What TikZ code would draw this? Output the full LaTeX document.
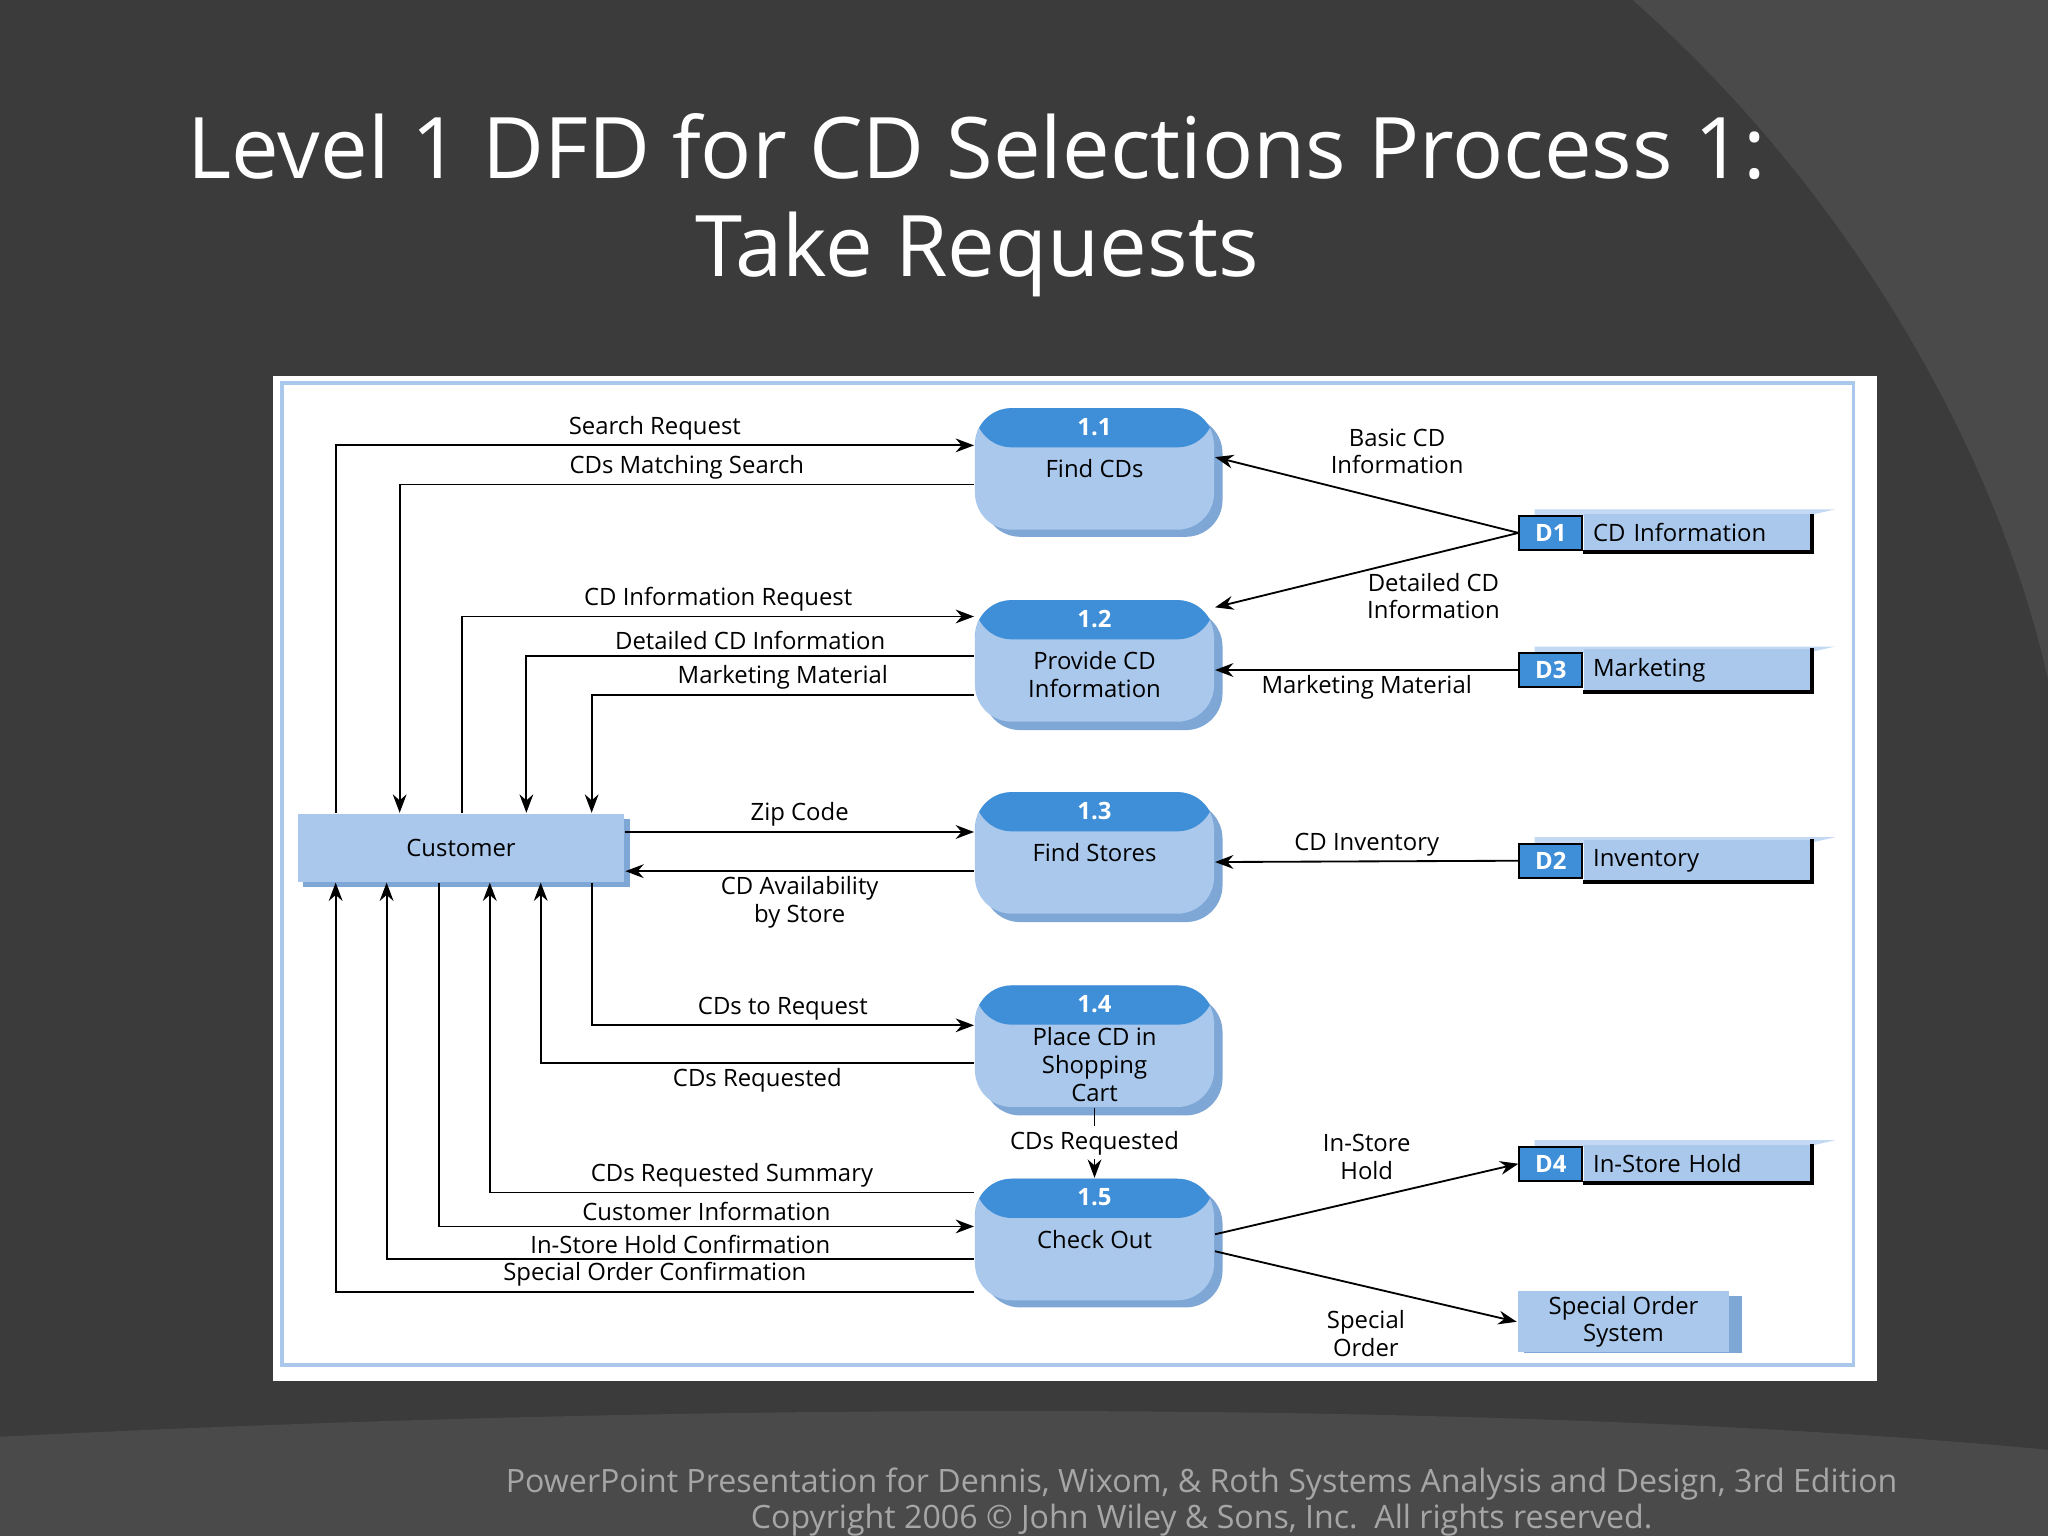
\documentclass[tikz,border=0pt]{standalone}
\usepackage{fontspec}
\setmainfont{Open Sans}
\usetikzlibrary{positioning,arrows.meta}
\definecolor{slide}{HTML}{3B3B3C}
\definecolor{slidelight}{HTML}{4A4A4B}
\definecolor{procbody}{HTML}{A9C8EC}
\definecolor{prochead}{HTML}{3F8ED8}
\definecolor{procshade}{HTML}{7FA7D6}
\tikzset{
  proc/.style={rounded corners=8pt, fill=procbody, minimum width=1.83cm, minimum height=0.93cm,
    inner sep=1pt,
    path picture={\fill[prochead] (path picture bounding box.north west) rectangle
      ([yshift=-0.3cm]path picture bounding box.north east);}},
  procnum/.style={anchor=center, text=white, yshift=-0.15cm, inner sep=1pt, font=\fontsize{5.2}{6}\selectfont\bfseries},
  body/.style={anchor=center, align=center, inner sep=1pt, font=\fontsize{5.2}{6}\selectfont},
  store/.style={fill=procbody, minimum width=1.7cm, minimum height=0.26cm, inner sep=2pt,
    font=\fontsize{5.2}{6}\selectfont, anchor=west, align=left, text width=1.6cm},
  sid/.style={fill=prochead, draw=black, minimum width=0.48cm, minimum height=0.26cm, inner sep=1pt,
    text=white, font=\fontsize{5.2}{6}\selectfont\bfseries, anchor=east},
  flow/.style={-{Stealth[length=4pt,width=3pt]}, thin},
  lbl/.style={font=\fontsize{5.2}{6}\selectfont, align=center, inner sep=1pt},
}
\begin{document}
\begin{tikzpicture}[x=0.01cm, y=-0.01cm]
  % --- background ---
  \fill[slide] (0,0) rectangle (1568,1176);
  \fill[slidelight] (1250,0) .. controls (1420,150) and (1530,350) .. (1568,520) -- (1568,0) -- cycle;
  \fill[slidelight] (0,1100) .. controls (600,1070) and (1200,1075) .. (1568,1110) -- (1568,1176) -- (0,1176) -- cycle;
  \useasboundingbox (0,0) rectangle (1568,1176);

  % --- title ---
  \node[white, font=\fontsize{18.5}{22}\selectfont] (title1) at (748,112) {Level 1 DFD for CD Selections Process 1:};
  \node[white, font=\fontsize{18.5}{22}\selectfont] (title2) at (748,195) {Take Requests};

  % --- panel ---
  \fill[white] (209,288) rectangle (1437,1057);
  \draw[procbody, thick] (216,293) rectangle (1419,1045);

  % --- shadows ---
  \foreach \y in {359,507,654,802,949}
    \fill[procshade, rounded corners=8pt] (753,\y-40) rectangle (936,\y+52);

  % --- processes ---
  \node[proc, label={[procnum]north:1.1}, label={[body]center:Find CDs}] (p11) at (838,359) {};
  \node[proc, label={[procnum]north:1.2}, label={[body,yshift=-3pt]center:Provide CD\\Information}] (p12) at (838,506) {};
  \node[proc, label={[procnum]north:1.3}, label={[body]center:Find Stores}] (p13) at (838,653) {};
  \node[proc, label={[procnum]north:1.4}, label={[body,yshift=-4pt]center:Place CD in\\Shopping\\Cart}] (p14) at (838,801) {};
  \node[proc, label={[procnum]north:1.5}, label={[body]center:Check Out}] (p15) at (838,949) {};

  % --- customer ---
  \fill[procshade] (232,627) rectangle (482,679);
  \node[fill=procbody, minimum width=2.5cm, minimum height=0.52cm, font=\fontsize{5.2}{6}\selectfont] (cust) at (353,649) {Customer};

  % --- data stores ---
  \foreach \nm/\id/\txt/\y in {d1/D1/CD Information/408, d3/D3/Marketing/513, d2/D2/Inventory/659, d4/D4/In-Store Hold/891} {
    \fill[procbody!70] (1175,\y-18) -- (1405,\y-18) -- (1383,\y-13) -- (1175,\y-13) -- cycle;
    \node[sid] (\nm) at (1212,\y) {\id};
    \node[store] (\nm t) at (1212,\y) {\txt};
    \draw[thick] (\nm t.south west) -- (\nm t.south east) -- (\nm t.north east);
  }
  \fill[procshade] (1167,992) rectangle (1334,1036);
  \node[fill=procbody, minimum width=1.62cm, minimum height=0.43cm, lbl] (sos) at (1243,1012) {Special Order\\System};

  % --- flows to and from customer ---
  \draw[flow] (cust.north -| 257,0) |- (p11.west |- 0,341) node[lbl, pos=0.75, above] {Search Request};
  \draw[flow] (p11.west |- 0,371) -| (cust.north -| 306,0) node[lbl, pos=0.25, above] {CDs Matching Search};
  \draw[flow] (cust.north -| 354,0) |- (p12.west |- 0,472) node[lbl, pos=0.75, above] {CD Information Request};
  \draw[flow] (p12.west |- 0,502) -| (cust.north -| 403,0) node[lbl, pos=0.25, above] {Detailed CD Information};
  \draw[flow] (p12.west |- 0,532) -| (cust.north -| 453,0) node[lbl, pos=0.25, above] {Marketing Material};
  \draw[flow] (cust.east |- 0,637) -- (p13.west |- 0,637) node[lbl, midway, above] {Zip Code};
  \draw[flow] (p13.west |- 0,667) -- (cust.east |- 0,667) node[lbl, midway, below] {CD Availability\\by Store};
  \draw[flow] (cust.south -| 453,0) |- (p14.west |- 0,785) node[lbl, pos=0.75, above] {CDs to Request};
  \draw[flow] (p14.west |- 0,814) -| (cust.south -| 414,0) node[lbl, pos=0.25, below] {CDs Requested};
  \draw[flow] (p14.south) -- (p15.north) node[lbl, midway, fill=white] {CDs Requested};
  \draw[flow] (p15.west |- 0,913) -| (cust.south -| 375,0) node[lbl, pos=0.25, above] {CDs Requested Summary};
  \draw[flow] (cust.south -| 336,0) |- (p15.west |- 0,939) node[lbl, pos=0.75, above] {Customer Information};
  \draw[flow] (p15.west |- 0,964) -| (cust.south -| 296,0) node[lbl, pos=0.25, above] {In-Store Hold Confirmation};
  \draw[flow] (p15.west |- 0,989) -| (cust.south -| 257,0) node[lbl, pos=0.25, above] {Special Order Confirmation};

  % --- flows to and from stores ---
  \draw[flow] (d1.west) -- (p11.east |- 0,350) node[lbl, pos=0.4, above=5pt] {Basic CD\\Information};
  \draw[flow] (d1.west) -- (p12.east |- 0,465) node[lbl, pos=0.28, below=3pt] {Detailed CD\\Information};
  \draw[flow] (d3.west) -- (p12.east |- 0,513) node[lbl, midway, below] {Marketing Material};
  \draw[flow] (d2.west) -- (p13.east |- 0,660) node[lbl, midway, above] {CD Inventory};
  \draw[flow] (p15.east |- 0,945) -- (d4.west) node[lbl, midway, above=3pt] {In-Store\\Hold};
  \draw[flow] (p15.east |- 0,958) -- (sos.west) node[lbl, midway, below=4pt] {Special\\Order};

  % --- footer ---
  \node[gray!70, align=center, font=\fontsize{7}{8}\selectfont] (foot) at (920,1150)
    {PowerPoint Presentation for Dennis, Wixom, \& Roth Systems Analysis and Design, 3rd Edition\\Copyright 2006 © John Wiley \& Sons, Inc.\ \ All rights reserved.};
\end{tikzpicture}
\end{document}
